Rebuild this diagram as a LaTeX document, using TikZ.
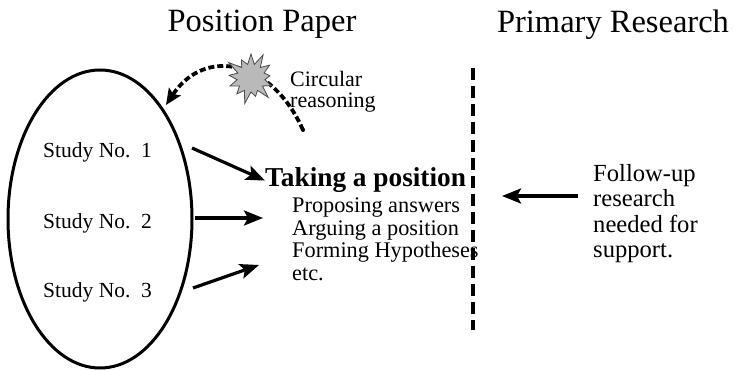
\documentclass[tikz,border=0pt]{standalone}
\usepackage{fontspec}
\setmainfont{Liberation Serif}
\usetikzlibrary{shapes.geometric,shapes.symbols,arrows.meta}
\tikzset{
  title/.style={anchor=base,inner sep=0pt,font=\fontsize{32.5}{32.5}\selectfont},
  study/.style={anchor=base west,inner sep=0pt,font=\fontsize{21.5}{22}\selectfont},
  item/.style={anchor=base west,inner sep=0pt,font=\fontsize{22.3}{22}\selectfont},
  note/.style={anchor=base west,inner sep=0pt,font=\fontsize{24.6}{24}\selectfont},
  bigarrow/.style={line width=3.2pt,-{Stealth[length=19pt,width=15pt,inset=4pt]}},
}
\begin{document}
\begin{tikzpicture}[x=1pt,y=-1pt]
\useasboundingbox (0,0) rectangle (735,371);
% titles
\node[title] (t1) at (262,32) {Position Paper};
\node[title] (t2) at (613,33) {Primary Research};
% ellipse of studies
\node[ellipse,draw,line width=3pt,minimum width=184pt,minimum height=298pt,inner sep=0pt] (ell) at (100,219) {};
\node[study] (s1) at (43,158) {Study No.\ \ 1};
\node[study] (s2) at (43,228) {Study No.\ \ 2};
\node[study] (s3) at (43,297) {Study No.\ \ 3};
% position block
\node[anchor=base west,inner sep=0pt,font=\fontsize{27.3}{27}\selectfont\bfseries] (head) at (265,187) {Taking a position};
\node[item] (l1) at (292,212) {Proposing answers};
\node[item] (l2) at (292,235) {Arguing a position};
\node[item] (l3) at (292,257.5) {Forming Hypotheses};
\node[item] (l4) at (292,280) {etc.};
% follow-up text
\node[note] (f1) at (593,182) {Follow-up};
\node[note] (f2) at (593,207) {research};
\node[note] (f3) at (593,232) {needed for};
\node[note] (f4) at (593,257) {support.};
% circular reasoning
\node[anchor=base west,inner sep=0pt,font=\fontsize{22}{22}\selectfont] (c1) at (290,87) {Circular};
\node[anchor=base west,inner sep=0pt,font=\fontsize{22}{22}\selectfont] (c2) at (290,108) {reasoning};
\coordinate (arcs) at (303,130);
\coordinate (arce) at (166,105);
\draw[line width=3.8pt,dash pattern=on 6pt off 3pt,
      -{Stealth[length=16pt,width=14pt,inset=3pt]}]
  (arcs) .. controls (272,60) and (205,46) .. (arce);
\fill (arcs) circle (2pt);
\node[starburst,draw=black!70,fill=gray!55,line width=0.8pt,minimum width=56pt,minimum height=56pt,
      starburst points=13,starburst point height=14pt,inner sep=0pt] (burst) at (251,78) {};
% dashed divider
\coordinate (dtop) at (473,68);
\coordinate (dbot) at (473,330);
\draw[line width=4pt,dash pattern=on 12pt off 6pt] (dtop) -- (dbot);
% arrows
\coordinate (a1s) at (192,148);
\coordinate (a2s) at (195,218);
\coordinate (a2e) at (263,218);
\coordinate (a3s) at (193,288);
\coordinate (a3e) at (259,265);
\coordinate (a4s) at (578,196);
\coordinate (a4e) at (502,196);
\draw[bigarrow] (a1s) -- (head.west);
\draw[bigarrow] (a2s) -- (a2e);
\draw[bigarrow] (a3s) -- (a3e);
\draw[bigarrow] (a4s) -- (a4e);
\end{tikzpicture}
\end{document}
